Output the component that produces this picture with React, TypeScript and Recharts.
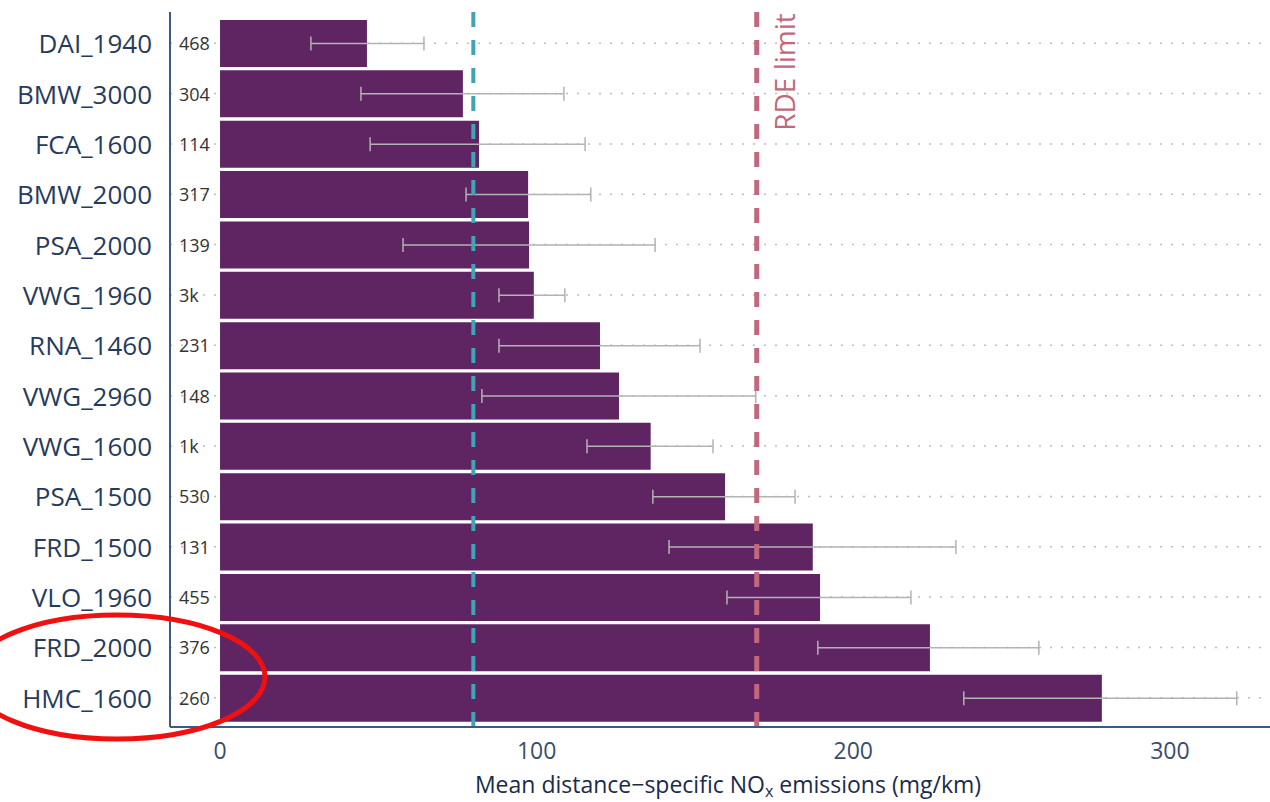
import React from 'react';
import { BarChart, Bar, XAxis, YAxis, CartesianGrid, ReferenceLine, ErrorBar } from 'recharts';

const categories = ['DAI_1940', 'BMW_3000', 'FCA_1600', 'BMW_2000', 'PSA_2000', 'VWG_1960', 'RNA_1460', 'VWG_2960', 'VWG_1600', 'PSA_1500', 'FRD_1500', 'VLO_1960', 'FRD_2000', 'HMC_1600'];
const counts = ['468', '304', '114', '317', '139', '3k', '231', '148', '1k', '530', '131', '455', '376', '260'];
const meanNox = [46.4, 76.7, 81.8, 97.3, 97.6, 99.1, 120, 126, 136, 159.5, 187.2, 189.5, 224.2, 278.5];
const lowerCi = [28.7, 44.5, 47.4, 77.7, 57.8, 88.1, 88.1, 82.7, 115.9, 136.7, 141.8, 160.1, 188.8, 234.9];
const upperCi = [64.4, 108.6, 115.3, 117.1, 137.4, 108.9, 151.6, 169.2, 155.7, 181.6, 232.4, 218.2, 258.6, 321.1];
const xTicks = [0, 100, 200, 300];
const euroLimit = 80;
const rdeLimit = 169.5;

const data = categories.map((name, i) => ({
  name,
  count: counts[i],
  mean: meanNox[i],
  err: [meanNox[i] - lowerCi[i], upperCi[i] - meanNox[i]],
}));

const FONT = '"Open Sans", "Noto Sans", sans-serif';

const YTick = ({ x, y, payload }: any) => {
  const row = data.find((d) => d.name === payload.value);
  return (
    <g>
      <text x={x - 18} y={y} textAnchor="end" dominantBaseline="central" fontSize={26} fill="#263b5c" fontFamily={FONT}>
        {payload.value}
      </text>
      <text x={x + 9} y={y} textAnchor="start" dominantBaseline="central" fontSize={18} fill="#333" fontFamily={FONT}>
        {row ? row.count : ''}
      </text>
    </g>
  );
};

const RdeLabel = ({ viewBox }: any) => {
  const cx = viewBox.x + 27;
  const cy = viewBox.y + 60;
  return (
    <text x={cx} y={cy} transform={`rotate(-90, ${cx}, ${cy})`} textAnchor="middle" dominantBaseline="central" fontSize={28} fill="#c2677c" fontFamily={FONT}>
      RDE limit
    </text>
  );
};

const XLabel = ({ viewBox }: any) => {
  const cx = viewBox.x + viewBox.width / 2 + 8;
  return (
    <text x={cx} y={viewBox.y + 66} textAnchor="middle" fontSize={23} fill="#1a2b4a" fontFamily={FONT}>
      Mean distance−specific NO
      <tspan fontSize={16} dy={4}>x</tspan>
      <tspan dy={-4}> emissions (mg/km)</tspan>
    </text>
  );
};

export default function App() {
  return (
    <div style={{ position: 'absolute', left: 0, top: 0, width: 1270, height: 802, background: '#fff' }}>
      <BarChart
        width={1270}
        height={802}
        data={data}
        layout="vertical"
        margin={{ top: 12, right: 0, left: 0, bottom: 0 }}
      >
        <CartesianGrid vertical={false} syncWithTicks stroke="#bdbdbd" strokeDasharray="2 9" strokeWidth={1.5} />
        <XAxis
          type="number"
          domain={[-15.8, 331.6]}
          ticks={xTicks}
          allowDataOverflow
          height={75}
          axisLine={{ stroke: '#3d5a80', strokeWidth: 2 }}
          tickLine={false}
          tickSize={0}
          tickMargin={16}
          tick={{ fontSize: 23, fill: '#3b4d6b', fontFamily: FONT }}
          label={<XLabel />}
        />
        <YAxis
          type="category"
          dataKey="name"
          width={170}
          interval={0}
          axisLine={{ stroke: '#3d5a80', strokeWidth: 2 }}
          tickLine={false}
          tickSize={0}
          tickMargin={0}
          padding={{ top: 6, bottom: 4 }}
          tick={<YTick />}
        />
        <Bar dataKey="mean" fill="#5f2462" barSize={47} isAnimationActive={false}>
          <ErrorBar dataKey="err" direction="x" width={7} stroke="#b3b3b3" strokeWidth={1.5} isAnimationActive={false} />
        </Bar>
        <ReferenceLine x={euroLimit} stroke="#3fa5b6" strokeWidth={4} strokeDasharray="15 13" />
        <ReferenceLine x={rdeLimit} stroke="#c2677c" strokeWidth={5} strokeDasharray="15 13" label={<RdeLabel />} />
      </BarChart>
      <svg width={1270} height={802} style={{ position: 'absolute', left: 0, top: 0, pointerEvents: 'none' }}>
        <ellipse cx={117} cy={677} rx={148} ry={62} fill="none" stroke="#f01010" strokeWidth={5} />
      </svg>
    </div>
  );
}
